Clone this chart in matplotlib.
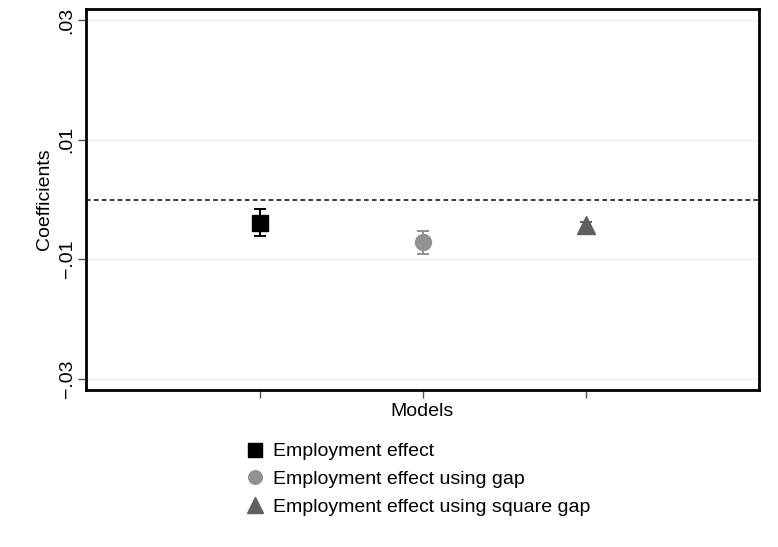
import matplotlib
matplotlib.use("Agg")
import matplotlib.pyplot as plt

plt.rcParams['font.family'] = ['Liberation Sans', 'DejaVu Sans']

models = ["Employment effect", "Employment effect using gap", "Employment effect using square gap"]
positions = [1, 2, 3]
coefs = [-0.0039, -0.0072, -0.0043]
ci_low = [-0.0061, -0.0091, -0.0049]
ci_high = [-0.0016, -0.0053, -0.0038]
markers = ["s", "o", "^"]
sizes = [11.5, 11.5, 13]
colors = ["#000000", "#929292", "#5f5f5f"]
yticks = [-0.03, -0.01, 0.01, 0.03]
ytick_labels = ["\u2212.03", "\u2212.01", ".01", ".03"]

fig = plt.figure(figsize=(7.78, 5.47), dpi=100)
ax = fig.add_axes([86 / 778, 1 - 390 / 547, (759 - 86) / 778, (390 - 9) / 547])

for y in yticks:
    ax.axhline(y, color="#eeeeee", lw=1, zorder=0)
ax.axhline(0, color="black", lw=1.1, ls=(0, (3, 2.2)), zorder=1)

handles = []
for x, c, lo, hi, m, ms, col, lab in zip(positions, coefs, ci_low, ci_high, markers, sizes, colors, models):
    ax.errorbar(x, c, yerr=[[c - lo], [hi - c]], fmt="none", ecolor=col, elinewidth=1.4,
                capsize=4, capthick=1.4, zorder=2)
    h, = ax.plot(x, c, marker=m, color=col, ms=ms, ls="none", label=lab, zorder=3)
    handles.append(h)

ax.set_xlim(-0.067, 4.06)
ax.set_ylim(-0.0319, 0.0319)
ax.set_xticks(positions)
ax.set_xticklabels([])
ax.set_yticks(yticks)
ax.set_yticklabels(ytick_labels, rotation=90, va="center", fontsize=14)
ax.tick_params(axis="both", direction="out", length=5.5, width=1, color="#555555", pad=2)
ax.set_xlabel("Models", fontsize=14, labelpad=1.6)
ax.set_ylabel("Coefficients", fontsize=14, labelpad=4)
for s in ax.spines.values():
    s.set_linewidth(2)

fig.legend(handles=handles, loc="upper left", bbox_to_anchor=(237.5 / 778, 1 - 435 / 547),
           frameon=False, fontsize=14, handletextpad=0.43, labelspacing=0.52,
           handlelength=1.0, borderaxespad=0, markerscale=0.85)

fig.savefig("out.png", dpi=100, facecolor="white")
